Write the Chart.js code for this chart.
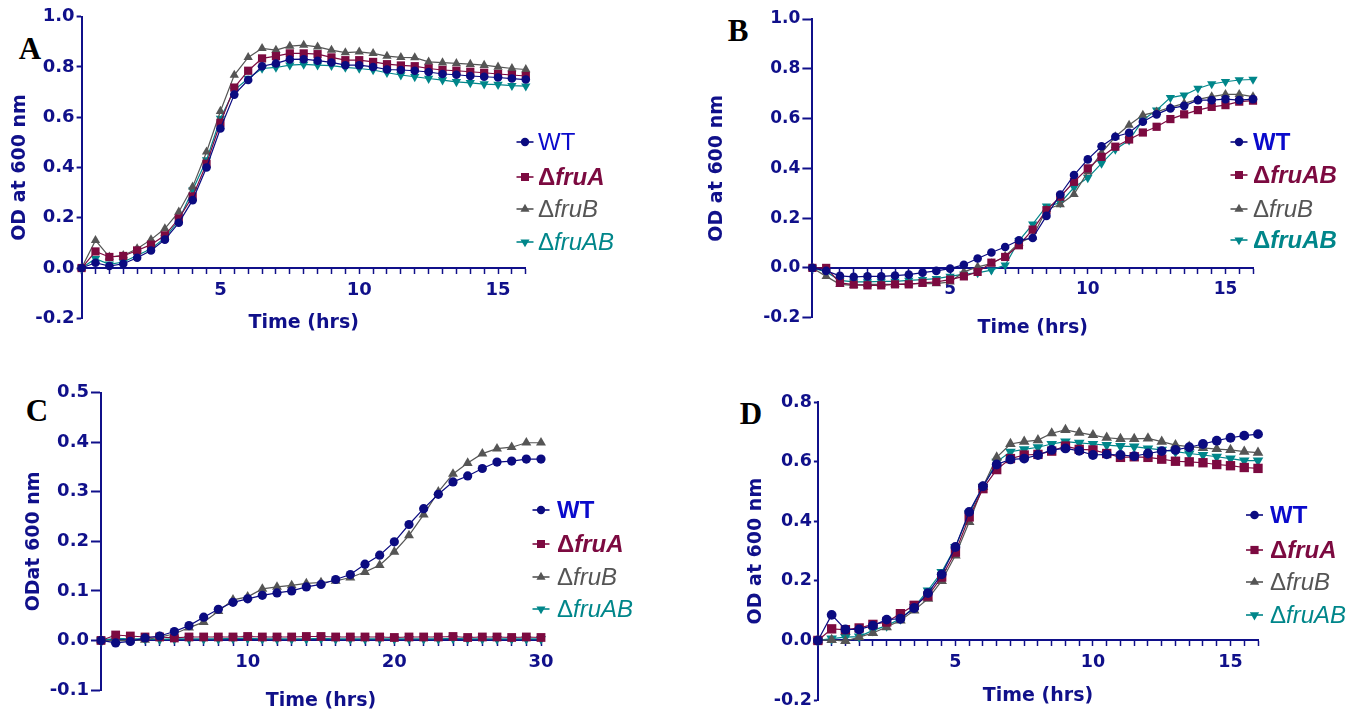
<!DOCTYPE html>
<html>
<head>
<meta charset="utf-8">
<script src="https://cdn.jsdelivr.net/npm/chart.js@4.4.1/dist/chart.umd.min.js"></script>
<style>
  html, body { margin: 0; padding: 0; background: #fff; }
  body { width: 1369px; height: 715px; position: relative; overflow: hidden; }
  canvas { position: absolute; }
  .tag { position: absolute; font: bold 31px "Liberation Serif", "Times New Roman", serif; color: #000;
         line-height: 1; transform: translate(-50%, -50%); }
</style>
</head>
<body>
<div class="tag" style="left:30px;top:48px">A</div>
<div class="tag" style="left:738px;top:30px">B</div>
<div class="tag" style="left:37px;top:410px">C</div>
<div class="tag" style="left:751px;top:413px">D</div>
<canvas id="cA"></canvas>
<canvas id="cB"></canvas>
<canvas id="cC"></canvas>
<canvas id="cD"></canvas>
<script>
// time points
var hours16 = [0,0.5,1,1.5,2,2.5,3,3.5,4,4.5,5,5.5,6,6.5,7,7.5,8,8.5,9,9.5,10,10.5,11,11.5,12,12.5,13,13.5,14,14.5,15,15.5,16];
var hours30 = [0,1,2,3,4,5,6,7,8,9,10,11,12,13,14,15,16,17,18,19,20,21,22,23,24,25,26,27,28,29,30];

// panel A
var aWT    = [0,0.021,0.008,0.017,0.041,0.07,0.113,0.18,0.27,0.40,0.555,0.69,0.748,0.803,0.814,0.83,0.831,0.825,0.818,0.807,0.807,0.80,0.79,0.788,0.785,0.78,0.772,0.769,0.764,0.761,0.758,0.754,0.75];
var aFruA  = [0,0.066,0.044,0.048,0.07,0.093,0.13,0.197,0.285,0.415,0.578,0.718,0.785,0.834,0.843,0.854,0.854,0.851,0.838,0.827,0.827,0.82,0.811,0.806,0.803,0.794,0.788,0.785,0.781,0.777,0.772,0.768,0.764];
var aFruB  = [0,0.11,0.044,0.05,0.077,0.113,0.157,0.223,0.323,0.462,0.624,0.768,0.838,0.874,0.867,0.883,0.887,0.88,0.867,0.857,0.86,0.854,0.843,0.838,0.837,0.82,0.817,0.814,0.811,0.807,0.80,0.794,0.79];
var aFruAB = [0,0.037,0.015,0.024,0.05,0.077,0.12,0.19,0.31,0.43,0.595,0.708,0.754,0.794,0.798,0.807,0.81,0.807,0.805,0.798,0.794,0.788,0.777,0.768,0.761,0.754,0.748,0.741,0.737,0.732,0.73,0.726,0.724];

// panel B
var bWT    = [0,-0.012,-0.032,-0.036,-0.034,-0.034,-0.031,-0.027,-0.019,-0.012,-0.003,0.013,0.038,0.062,0.084,0.111,0.12,0.209,0.295,0.373,0.436,0.489,0.527,0.543,0.587,0.617,0.641,0.651,0.674,0.674,0.678,0.674,0.678];
var bFruA  = [0,0.0,-0.06,-0.067,-0.07,-0.07,-0.066,-0.066,-0.06,-0.056,-0.047,-0.034,-0.016,0.021,0.044,0.091,0.154,0.232,0.286,0.346,0.40,0.446,0.487,0.516,0.544,0.567,0.598,0.617,0.634,0.647,0.654,0.668,0.672];
var bFruB  = [0,-0.034,-0.066,-0.07,-0.066,-0.066,-0.066,-0.063,-0.063,-0.063,-0.056,-0.016,0.004,0.017,0.047,0.10,0.125,0.235,0.255,0.296,0.386,0.462,0.527,0.574,0.614,0.627,0.645,0.661,0.677,0.688,0.697,0.697,0.688];
var bFruAB = [0,-0.016,-0.05,-0.056,-0.056,-0.054,-0.054,-0.05,-0.047,-0.043,-0.034,-0.025,-0.02,-0.009,0.011,0.109,0.176,0.248,0.261,0.323,0.362,0.42,0.476,0.513,0.594,0.634,0.684,0.694,0.721,0.739,0.748,0.755,0.757];

// panel C
var cWT    = [0,-0.005,-0.002,0.005,0.009,0.018,0.03,0.047,0.063,0.077,0.084,0.091,0.096,0.10,0.108,0.113,0.123,0.133,0.154,0.172,0.199,0.234,0.266,0.295,0.32,0.332,0.347,0.36,0.362,0.366,0.366];
var cFruA  = [0,0.011,0.009,0.007,0.007,0.005,0.007,0.007,0.007,0.007,0.008,0.007,0.007,0.007,0.008,0.008,0.007,0.007,0.007,0.007,0.006,0.007,0.007,0.007,0.008,0.006,0.007,0.007,0.006,0.007,0.006];
var cFruB  = [0,-0.001,0,0.001,0.007,0.013,0.026,0.037,0.059,0.082,0.088,0.104,0.108,0.111,0.115,0.117,0.12,0.127,0.138,0.152,0.179,0.212,0.254,0.30,0.336,0.358,0.377,0.387,0.39,0.399,0.399];
var cFruAB = [0,0.004,0.003,0.003,0.002,0.003,0.003,0.003,0.003,0.004,0.004,0.003,0.003,0.003,0.003,0.004,0.003,0.003,0.003,0.003,0.003,0.003,0.003,0.003,0.004,0.003,0.003,0.003,0.003,0.003,0.003];

// panel D
var dWT    = [0,0.086,0.037,0.037,0.05,0.07,0.073,0.109,0.159,0.222,0.314,0.432,0.518,0.591,0.608,0.611,0.623,0.64,0.645,0.637,0.623,0.625,0.623,0.619,0.628,0.636,0.64,0.649,0.66,0.671,0.681,0.688,0.693];
var dFruA  = [0,0.039,0.036,0.042,0.054,0.062,0.09,0.118,0.149,0.213,0.297,0.415,0.51,0.574,0.611,0.623,0.625,0.636,0.653,0.642,0.64,0.628,0.615,0.617,0.615,0.609,0.602,0.60,0.597,0.591,0.587,0.581,0.578];
var dFruB  = [0,0.002,-0.002,0.011,0.025,0.045,0.067,0.101,0.14,0.20,0.286,0.398,0.516,0.615,0.66,0.668,0.673,0.696,0.707,0.698,0.69,0.681,0.677,0.677,0.679,0.668,0.656,0.651,0.647,0.643,0.64,0.634,0.631];
var dFruAB = [0,0.006,0.011,0.013,0.034,0.05,0.073,0.112,0.168,0.23,0.314,0.426,0.516,0.60,0.634,0.642,0.649,0.66,0.668,0.664,0.66,0.656,0.653,0.651,0.645,0.64,0.634,0.628,0.623,0.617,0.611,0.604,0.604];

var xLabels16 = [5, 10, 15];
var xLabels30 = [10, 20, 30];

var NAVY = '#0b0b80', MAROON = '#7c0a40', GRAY = '#555555', TEAL = '#00868a', WTBLUE = '#0a0acc';
var AXIS = '#10108a';

function pts(xs, ys) {
  return xs.map(function (t, i) { return { x: t, y: ys[i] }; });
}

function series(xs, wt, fa, fb, fab, r) {
  return [
    { data: pts(xs, wt),  borderColor: NAVY,   backgroundColor: NAVY,   pointStyle: 'circle',   pointRadius: r },
    { data: pts(xs, fa),  borderColor: MAROON, backgroundColor: MAROON, pointStyle: 'rect',     pointRadius: r * 1.35 },
    { data: pts(xs, fb),  borderColor: GRAY,   backgroundColor: GRAY,   pointStyle: 'triangle', pointRadius: r * 1.25 },
    { data: pts(xs, fab), borderColor: TEAL,   backgroundColor: TEAL,   pointStyle: 'triangle', pointRadius: r * 1.25, pointRotation: 180 }
  ];
}

function seg(t, s) { return { t: t, s: s }; }

var panels = [
  { id: 'cA', left: 0, top: 0, w: 684, h: 350, area: { l: 81.6, r: 525.8, t: 16.7, b: 318.3 },
    xMax: 16, xStep: 0.5, xLabels: xLabels16, yMin: -0.2, yMax: 1.0, yStep: 0.2,
    yTitle: 'OD at 600 nm', yTitlePad: 9, xTitlePad: 5, yTickLen: 5, tickSize: 18,
    data: series(hours16, aWT, aFruA, aFruB, aFruAB, 4.3),
    legend: { mx: 525, tx: 538, rows: [142, 177, 209, 242], r: 4.2, items: [
      [seg('WT', 'normal')],
      [seg('\u0394', 'bold'), seg('fruA', 'italic bold')],
      [seg('\u0394', 'normal'), seg('fruB', 'italic')],
      [seg('\u0394', 'normal'), seg('fruAB', 'italic')] ] } },
  { id: 'cB', left: 684, top: 0, w: 685, h: 350, area: { l: 812.4, r: 1253, t: 19, b: 317.7 },
    xMax: 16, xStep: 0.5, xLabels: xLabels16, yMin: -0.2, yMax: 1.0, yStep: 0.2,
    yTitle: 'OD at 600 nm', yTitlePad: 21.6, xTitlePad: 11, yTickLen: 10, tickSize: 17, 
    data: series(hours16, bWT, bFruA, bFruB, bFruAB, 4.3),
    legend: { mx: 1239, tx: 1253, rows: [142, 175, 209, 240], r: 4.2, items: [
      [seg('WT', 'bold')],
      [seg('\u0394', 'bold'), seg('fruAB', 'italic bold')],
      [seg('\u0394', 'normal'), seg('fruB', 'italic')],
      [seg('\u0394', 'bold'), seg('fruAB', 'italic bold')] ] } },
  { id: 'cC', left: 0, top: 360, w: 684, h: 355, area: { l: 101, r: 541, t: 392.7, b: 690 },
    xMax: 30, xStep: 1, xLabels: xLabels30, yMin: -0.1, yMax: 0.5, yStep: 0.1,
    yTitle: 'ODat 600 nm', yTitlePad: 22.6, xTitlePad: 11, yTickLen: 10, tickSize: 18,
    data: series(hours30, cWT, cFruA, cFruB, cFruAB, 4.6),
    legend: { mx: 541, tx: 557, rows: [510, 544, 577, 609], r: 4.2, items: [
      [seg('WT', 'bold')],
      [seg('\u0394', 'bold'), seg('fruA', 'italic bold')],
      [seg('\u0394', 'normal'), seg('fruB', 'italic')],
      [seg('\u0394', 'normal'), seg('fruAB', 'italic')] ] } },
  { id: 'cD', left: 684, top: 360, w: 685, h: 355, area: { l: 817.9, r: 1258, t: 402.3, b: 700 },
    xMax: 16, xStep: 0.5, xLabels: xLabels16, yMin: -0.2, yMax: 0.8, yStep: 0.2,
    yTitle: 'OD at 600 nm', yTitlePad: 61, xTitlePad: 6, yTickLen: 4, tickSize: 17.5,
    data: series(hours16, dWT, dFruA, dFruB, dFruAB, 4.9),
    legend: { mx: 1254.5, tx: 1270, rows: [515, 550, 582, 615], r: 4.3, items: [
      [seg('WT', 'bold')],
      [seg('\u0394', 'bold'), seg('fruA', 'italic bold')],
      [seg('\u0394', 'normal'), seg('fruB', 'italic')],
      [seg('\u0394', 'normal'), seg('fruAB', 'italic')] ] } }
];

var legendColors = [NAVY, MAROON, GRAY, TEAL];
var legendText = [WTBLUE, MAROON, GRAY, TEAL];
var legendShapes = [['circle', 0, 1], ['rect', 0, 1.35], ['triangle', 0, 1.25], ['triangle', 180, 1.25]];

function legendPlugin(p) {
  return {
    id: 'panelLegend',
    afterDraw: function (chart) {
      var ctx = chart.ctx, L = p.legend;
      L.items.forEach(function (segs, i) {
        var x = L.mx - p.left, y = L.rows[i] - p.top;
        ctx.save();
        ctx.strokeStyle = legendColors[i];
        ctx.lineWidth = 1.6;
        ctx.beginPath(); ctx.moveTo(x - 8.5, y); ctx.lineTo(x + 8.5, y); ctx.stroke();
        ctx.fillStyle = legendColors[i];
        Chart.helpers.drawPoint(ctx, { pointStyle: legendShapes[i][0], rotation: legendShapes[i][1],
          radius: L.r * legendShapes[i][2], borderWidth: 0 }, x, y);
        ctx.fillStyle = legendText[i];
        ctx.textBaseline = 'middle';
        var tx = L.tx - p.left;
        segs.forEach(function (s) {
          ctx.font = s.s + ' 24px "Liberation Sans", Arial, sans-serif';
          ctx.fillText(s.t, tx, y + 1);
          tx += ctx.measureText(s.t).width;
        });
        ctx.restore();
      });
    }
  };
}

panels.forEach(function (p) {
  var cv = document.getElementById(p.id);
  cv.width = p.w; cv.height = p.h;
  cv.style.left = p.left + 'px'; cv.style.top = p.top + 'px';
  cv.style.width = p.w + 'px'; cv.style.height = p.h + 'px';
  var tickFont = { family: '"DejaVu Sans", sans-serif', weight: 'bold', size: p.tickSize };
  var titleFont = { family: '"DejaVu Sans", sans-serif', weight: 'bold', size: 19 };
  var yWidth = p.area.l - p.left;
  new Chart(cv.getContext('2d'), {
    type: 'line',
    data: { datasets: p.data.map(function (d) {
      return Object.assign({ borderWidth: 1.2, pointBorderWidth: 0, tension: 0, clip: false }, d);
    }) },
    options: {
      responsive: false, animation: false, devicePixelRatio: 1,
      layout: { padding: { left: 0, top: p.area.t - p.top, right: p.left + p.w - p.area.r, bottom: p.top + p.h - p.area.b } },
      plugins: { legend: { display: false }, tooltip: { enabled: false } },
      scales: {
        x: {
          type: 'linear', min: 0, max: p.xMax, position: { y: 0 },
          ticks: { stepSize: p.xStep, autoSkip: false, maxRotation: 0, padding: 6, color: AXIS, font: tickFont,
            callback: function (v) { return p.xLabels.indexOf(v) >= 0 ? String(v) : ''; } },
          grid: { drawOnChartArea: false, drawTicks: true, tickLength: 5, tickColor: AXIS, tickWidth: 1.5 },
          border: { color: AXIS, width: 2 },
          title: { display: true, text: 'Time (hrs)', color: AXIS, font: titleFont, padding: { top: p.xTitlePad, bottom: 0 } }
        },
        y: {
          min: p.yMin, max: p.yMax,
          afterFit: function (s) { s.width = yWidth; },
          ticks: { stepSize: p.yStep, padding: 2, color: AXIS, font: tickFont,
            callback: function (v) { return Math.abs(v) < 1e-9 ? '0.0' : v.toFixed(1); } },
          grid: { drawOnChartArea: false, drawTicks: true, tickLength: p.yTickLen, tickColor: AXIS, tickWidth: 2 },
          border: { color: AXIS, width: 2 },
          title: { display: true, text: p.yTitle, color: AXIS, font: titleFont, padding: { top: p.yTitlePad, bottom: 0 } }
        }
      }
    },
    plugins: [legendPlugin(p)]
  });
});
</script>
</body>
</html>
